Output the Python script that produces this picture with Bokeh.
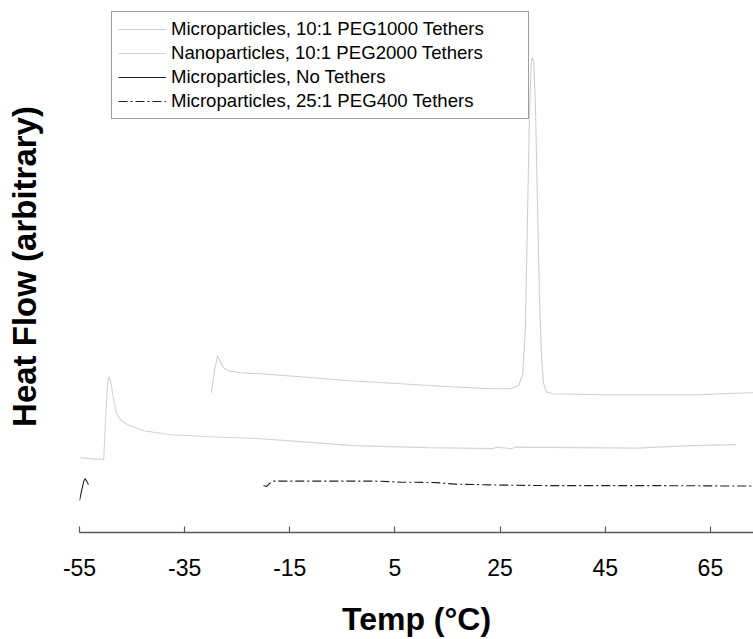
from bokeh.plotting import figure
from bokeh.models import Range1d, FixedTicker, Legend, LegendItem
from bokeh.embed import file_html
from bokeh.resources import INLINE

# ---- data (temperature in deg C, heat flow in arbitrary units) ----
peg1000_temp = [-29.9, -29.3, -28.75, -28.2, -27.6, -26.7, -24.4, -20.6, -13.0, -3.5, 6.0, 15.6,
                23.2, 27.0, 28.5, 29.3, 29.8, 30.2, 30.6, 30.9, 31.15, 31.4, 31.7, 32.1, 32.5,
                32.9, 33.25, 33.8, 35.0, 44.1, 63.1, 66.9, 73.2]
peg1000_flow = [140, 163, 177, 171, 165, 162, 160, 159, 156, 152, 149, 146,
                144, 144, 147, 158, 203, 313, 423, 471, 476, 471, 433, 333, 233,
                173, 150, 141, 139, 138, 138, 139, 140]

peg2000_temp = [-55.2, -52.9, -50.4, -50.05, -49.7, -49.4, -49.1, -48.5, -48.0, -47.2, -45.9,
                -42.8, -37.7, -30.1, -20.6, -13.0, -3.1, 11.4, 23.6, 24.2, 27.2, 27.8,
                51.1, 57.0, 61.6, 69.95]
peg2000_flow = [75, 74, 73, 113, 148, 156, 152, 133, 120, 113, 108,
                102, 98, 96, 94, 91, 87, 85, 84, 85.5, 84, 85.5,
                84.5, 86, 87, 88]

notether_temp = [-55.0, -54.6, -54.2, -53.95, -53.7, -53.3]
notether_flow = [32, 42, 51, 54, 52, 48]

peg400_temp = [-20.0, -19.4, -18.9, -18.1, -13.0, 1.1, 6.05, 12.9, 16.3, 25.1, 33.6, 53.6, 73.2]
peg400_flow = [47, 46, 49, 51.5, 51.5, 51.5, 50.5, 50, 48.5, 47.5, 47, 47, 46.5]

x_ticks = [-55, -35, -15, 5, 25, 45, 65]
x_tick_labels = ["-55", "-35", "-15", "5", "25", "45", "65"]
series_labels = ["Microparticles, 10:1 PEG1000 Tethers",
                 "Nanoparticles, 10:1 PEG2000 Tethers",
                 "Microparticles, No Tethers",
                 "Microparticles, 25:1 PEG400 Tethers"]

FONT = "Liberation Sans"

p = figure(width=753, height=639, output_backend="svg", toolbar_location=None,
           x_range=Range1d(-55, 73.2), y_range=Range1d(0, 533),
           min_border_left=79, min_border_right=0, min_border_top=0, min_border_bottom=106)
p.outline_line_color = None
p.grid.visible = False

ax = p.xaxis[0]
ax.ticker = FixedTicker(ticks=x_ticks)
ax.major_label_overrides = dict(zip(x_ticks, x_tick_labels))
ax.axis_line_color = "#5a5a5a"
ax.axis_line_width = 1.5
ax.major_tick_line_color = "#5a5a5a"
ax.major_tick_line_width = 1.2
ax.major_tick_in = 6
ax.major_tick_out = 0
ax.minor_tick_line_color = None
ax.major_label_text_font = FONT
ax.major_label_text_font_size = "23px"
ax.major_label_text_color = "black"
ax.major_label_standoff = 26
ax.axis_label = "Temp (°C)"
ax.axis_label_text_font = FONT
ax.axis_label_text_font_style = "bold"
ax.axis_label_text_font_size = "32px"
ax.axis_label_text_color = "black"
ax.axis_label_standoff = 22

ay = p.yaxis[0]
ay.ticker = FixedTicker(ticks=[])
ay.axis_line_color = None
ay.major_tick_line_color = None
ay.minor_tick_line_color = None
ay.major_label_standoff = 0
ay.axis_label = "Heat Flow (arbitrary)"
ay.axis_label_text_font = FONT
ay.axis_label_text_font_style = "bold"
ay.axis_label_text_font_size = "33px"
ay.axis_label_text_color = "black"
ay.axis_label_standoff = 37

r1 = p.line(peg1000_temp, peg1000_flow, line_color="#cfcfcf", line_width=1.1)
r2 = p.line(peg2000_temp, peg2000_flow, line_color="#d4d4d4", line_width=1.1)
r3 = p.line(notether_temp, notether_flow, line_color="#222222", line_width=1.1)
r4 = p.line(peg400_temp, peg400_flow, line_color="#222222", line_width=1.1, line_dash="9 3 2 3")

legend = Legend(items=[LegendItem(label=series_labels[0], renderers=[r1]),
                       LegendItem(label=series_labels[1], renderers=[r2]),
                       LegendItem(label=series_labels[2], renderers=[r3]),
                       LegendItem(label=series_labels[3], renderers=[r4])],
                location=(32, 413), margin=0, padding=6, spacing=2,
                glyph_width=48, glyph_height=20, label_height=20, label_width=351,
                label_standoff=5,
                label_text_font=FONT, label_text_font_size="18.6px", label_text_color="black",
                border_line_color="#404040", border_line_width=1.2,
                background_fill_color="white", background_fill_alpha=1)
p.add_layout(legend, "center")

open("out.html", "w").write(file_html(p, INLINE))
